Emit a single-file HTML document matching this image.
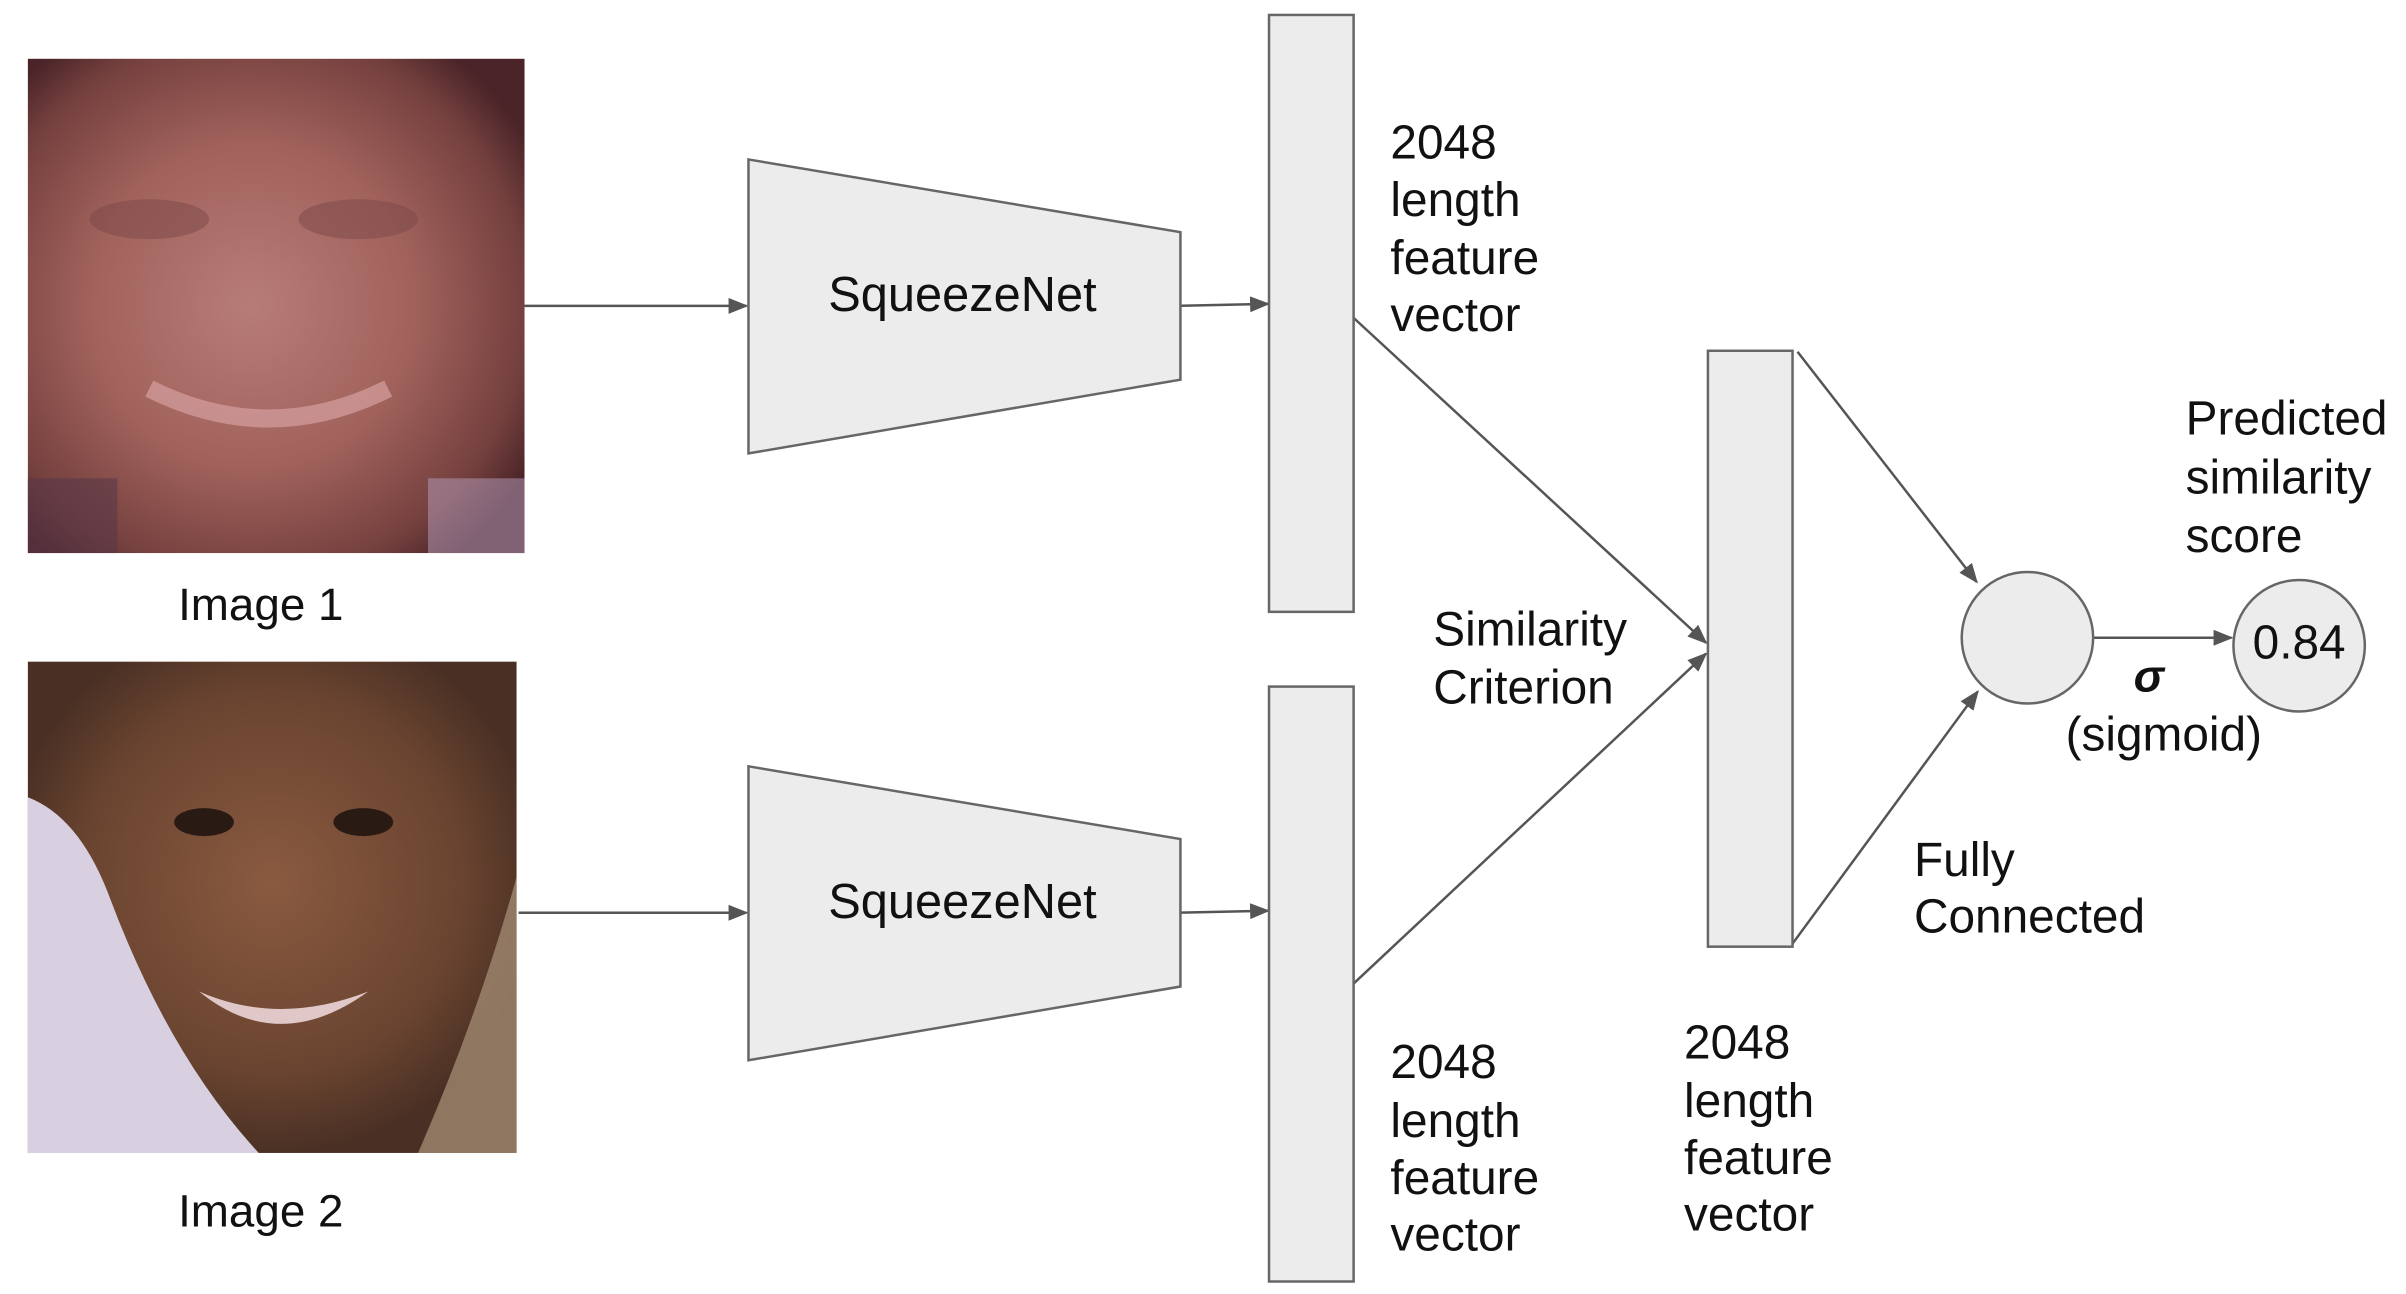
<!DOCTYPE html>
<html><head><meta charset="utf-8"><style>
html,body{margin:0;padding:0;background:#fff;}
svg{display:block;}
text{font-family:"Liberation Sans",Arial,sans-serif;fill:#111;}
</style></head><body>
<svg width="2406" height="1294" viewBox="0 0 2406 1294" xmlns="http://www.w3.org/2000/svg">
<defs>
<marker id="ah" markerWidth="20" markerHeight="16" refX="18" refY="8" orient="auto" markerUnits="userSpaceOnUse" viewBox="0 0 20 16">
<path d="M0,0 L20,8 L0,16 z" fill="#555"/></marker>
<radialGradient id="f1" cx="0.45" cy="0.5" r="0.65">
<stop offset="0" stop-color="#b87c78"/><stop offset="0.5" stop-color="#a2625c"/><stop offset="0.85" stop-color="#74403e"/><stop offset="1" stop-color="#4a2428"/></radialGradient>
<radialGradient id="f2" cx="0.5" cy="0.45" r="0.55">
<stop offset="0" stop-color="#8a5a40"/><stop offset="0.7" stop-color="#6a4430"/><stop offset="1" stop-color="#4a3024"/></radialGradient>
</defs>
<g transform="scale(0.9953,0.9965)">
<!-- Image 1 -->
<rect x="28" y="59" width="499" height="496" fill="url(#f1)"/>
<ellipse cx="150" cy="220" rx="60" ry="20" fill="#7a4848" opacity="0.5"/>
<ellipse cx="360" cy="220" rx="60" ry="20" fill="#7a4848" opacity="0.5"/>
<path d="M150 390 Q270 450 390 390" stroke="#d4a0a0" stroke-width="18" fill="none" opacity="0.7"/>
<rect x="28" y="480" width="90" height="75" fill="#5a3848" opacity="0.6"/>
<rect x="430" y="480" width="97" height="75" fill="#b8a0c0" opacity="0.5"/>
<text x="262" y="622" font-size="46" text-anchor="middle">Image 1</text>

<!-- Image 2 -->
<rect x="28" y="664" width="491" height="493" fill="url(#f2)"/>
<path d="M28 800 Q80 820 110 900 Q170 1060 260 1157 L28 1157 Z" fill="#d8d0e0"/>
<path d="M519 880 Q480 1020 420 1157 L519 1157 Z" fill="#a08870" opacity="0.8"/>
<ellipse cx="205" cy="825" rx="30" ry="14" fill="#2a1a14"/>
<ellipse cx="365" cy="825" rx="30" ry="14" fill="#2a1a14"/>
<path d="M200 995 Q280 1060 370 995 Q280 1030 200 995 Z" fill="#e0c8c8"/>
<text x="262" y="1231" font-size="46" text-anchor="middle">Image 2</text>

<g stroke="#555" stroke-width="2.5" fill="none">
<line x1="527" y1="307" x2="750" y2="307" marker-end="url(#ah)"/>
<line x1="521" y1="916" x2="750" y2="916" marker-end="url(#ah)"/>
<line x1="1181" y1="307" x2="1274" y2="305" marker-end="url(#ah)"/>
<line x1="1181" y1="916" x2="1274" y2="914" marker-end="url(#ah)"/>
<line x1="1360" y1="319" x2="1714" y2="645" marker-end="url(#ah)"/>
<line x1="1360" y1="987" x2="1714" y2="656" marker-end="url(#ah)"/>
<line x1="1806" y1="353" x2="1986" y2="584" marker-end="url(#ah)"/>
<line x1="1801" y1="947" x2="1987" y2="694" marker-end="url(#ah)"/>
<line x1="2103" y1="640" x2="2242" y2="640" marker-end="url(#ah)"/>
</g>

<g fill="#ececec" stroke="#666" stroke-width="2.5">
<polygon points="752,160 1186,233 1186,381 752,455"/>
<polygon points="752,769 1186,842 1186,990 752,1064"/>
<rect x="1275" y="15" width="85" height="599"/>
<rect x="1275" y="689" width="85" height="597"/>
<rect x="1716" y="352" width="85" height="598"/>
<circle cx="2037" cy="640" r="66"/>
<circle cx="2310" cy="648" r="66"/>
</g>

<text x="967" y="312" font-size="49" text-anchor="middle">SqueezeNet</text>
<text x="967" y="921" font-size="49" text-anchor="middle">SqueezeNet</text>

<g font-size="48">
<text x="1397" y="159">2048</text>
<text x="1397" y="217">length</text>
<text x="1397" y="275">feature</text>
<text x="1397" y="332">vector</text>

<text x="1397" y="1082">2048</text>
<text x="1397" y="1141">length</text>
<text x="1397" y="1198">feature</text>
<text x="1397" y="1255">vector</text>

<text x="1692" y="1062">2048</text>
<text x="1692" y="1121">length</text>
<text x="1692" y="1178">feature</text>
<text x="1692" y="1235">vector</text>

<text x="1440" y="648">Similarity</text>
<text x="1440" y="706">Criterion</text>

<text x="1923" y="879">Fully</text>
<text x="1923" y="936">Connected</text>

<text x="2196" y="436">Predicted</text>
<text x="2196" y="495">similarity</text>
<text x="2196" y="554">score</text>

<text x="2174" y="753" text-anchor="middle">(sigmoid)</text>
<text x="2310" y="661" text-anchor="middle">0.84</text>
</g>
<text x="2159" y="694" font-size="46" font-weight="bold" font-style="italic" text-anchor="middle">σ</text>
</g>
</svg>
</body></html>
